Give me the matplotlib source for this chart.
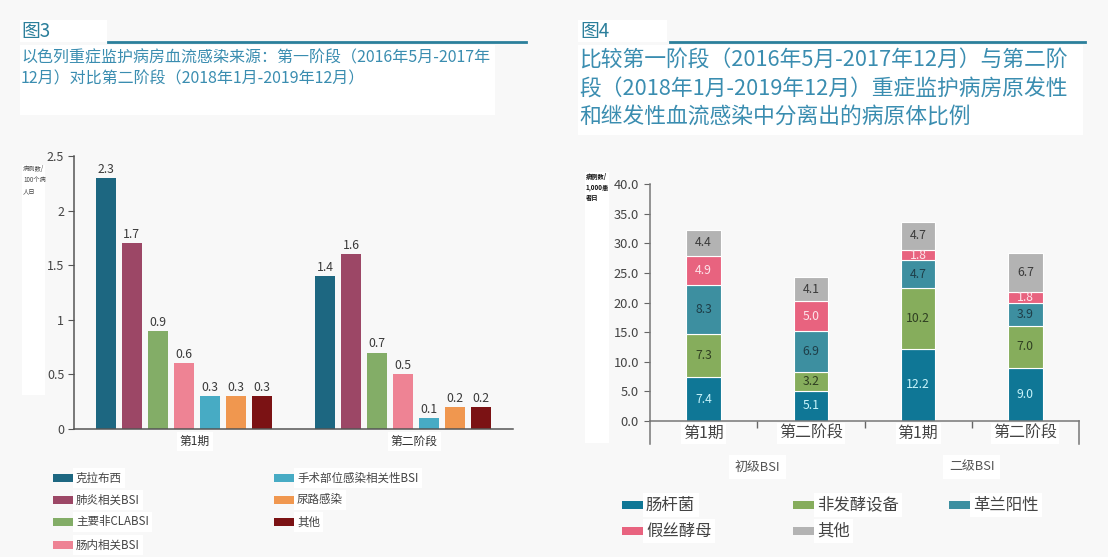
import matplotlib
matplotlib.use("Agg")
import matplotlib.pyplot as plt
from matplotlib.patches import Rectangle
from matplotlib.lines import Line2D
import numpy as np

plt.rcParams['font.family'] = ['Noto Sans CJK SC', 'DejaVu Sans']

# ---------------- data: Figure 3 ----------------
groups3 = ["第1期", "第二阶段"]
series3 = ["克拉布西", "肺炎相关BSI", "主要非CLABSI", "肠内相关BSI",
           "手术部位感染相关性BSI", "尿路感染", "其他"]
values3 = {
    "克拉布西": [2.3, 1.4],
    "肺炎相关BSI": [1.7, 1.6],
    "主要非CLABSI": [0.9, 0.7],
    "肠内相关BSI": [0.6, 0.5],
    "手术部位感染相关性BSI": [0.3, 0.1],
    "尿路感染": [0.3, 0.2],
    "其他": [0.3, 0.2],
}
colors3 = ["#1d6781", "#9c4766", "#83ad67", "#ee8394", "#47abc4", "#f0974f", "#7b1214"]
yticks3 = [0, 0.5, 1, 1.5, 2, 2.5]
yticklabels3 = ["0", "0.5", "1", "1.5", "2", "2.5"]

# ---------------- data: Figure 4 ----------------
bars4 = ["第1期", "第二阶段", "第1期", "第二阶段"]
supergroups4 = ["初级BSI", "二级BSI"]
series4 = ["肠杆菌", "非发酵设备", "革兰阳性", "假丝酵母", "其他"]
values4 = {
    "肠杆菌": [7.4, 5.1, 12.2, 9.0],
    "非发酵设备": [7.3, 3.2, 10.2, 7.0],
    "革兰阳性": [8.3, 6.9, 4.7, 3.9],
    "假丝酵母": [4.9, 5.0, 1.8, 1.8],
    "其他": [4.4, 4.1, 4.7, 6.7],
}
colors4 = ["#0f7796", "#86ad5c", "#3d8fa0", "#e8637f", "#b3b3b3"]
labelcolors4 = ["#c8f4fb", "#2f3f22", "#1e3e48", "#fde3ea", "#3a3a3a"]
yticks4 = [0, 5, 10, 15, 20, 25, 30, 35, 40]

W, H = 1108, 557
BG = "#f8f8f8"
TEAL = "#2b7f9b"
SUB = "#3a8db0"

fig = plt.figure(figsize=(W / 100, H / 100), dpi=100, facecolor=BG)


def fx(x):
    return x / W


def fy(y):
    return 1 - y / H


def wbox(x0, y0, x1, y1, color="white"):
    fig.patches.append(Rectangle((fx(x0), fy(y1)), fx(x1) - fx(x0), fy(y0) - fy(y1),
                                 transform=fig.transFigure, facecolor=color,
                                 edgecolor="none", zorder=0))


# ---------------- titles ----------------
wbox(20, 20, 107, 42)
wbox(20, 45, 495, 115)
fig.text(fx(21), fy(31), "图3", fontsize=13.5, color=TEAL, va="center", ha="left")
fig.add_artist(Line2D([fx(108), fx(526)], [fy(42), fy(42)], color=TEAL, lw=2,
                      transform=fig.transFigure))
fig.text(fx(21), fy(58), "以色列重症监护病房血流感染来源：第一阶段（2016年5月-2017年",
         fontsize=11.5, color=SUB, va="center", ha="left")
fig.text(fx(21), fy(79), "12月）对比第二阶段（2018年1月-2019年12月）",
         fontsize=11.5, color=SUB, va="center", ha="left")

wbox(578, 20, 667, 42)
wbox(578, 45, 1083, 135)
fig.text(fx(580), fy(31), "图4", fontsize=13.5, color=TEAL, va="center", ha="left")
fig.add_artist(Line2D([fx(670), fx(1085)], [fy(42), fy(42)], color=TEAL, lw=2,
                      transform=fig.transFigure))
sub4 = ["比较第一阶段（2016年5月-2017年12月）与第二阶",
        "段（2018年1月-2019年12月）重症监护病房原发性",
        "和继发性血流感染中分离出的病原体比例"]
for i, line in enumerate(sub4):
    fig.text(fx(579), fy(61 + i * 28.5), line, fontsize=15.7, color=SUB,
             va="center", ha="left")

# ---------------- Figure 3 axes ----------------
ax3 = fig.add_axes([fx(74), fy(429), fx(513) - fx(74), fy(156) - fy(429)])
ax3.set_facecolor("none")
x3 = np.arange(len(groups3))
bw = 0.091
step = 0.1185
n = len(series3)
for i, (name, col) in enumerate(zip(series3, colors3)):
    xs = x3 + (i - (n - 1) / 2) * step
    b = ax3.bar(xs, values3[name], width=bw, color=col, zorder=2)
    ax3.bar_label(b, labels=[f"{v:.1f}" for v in values3[name]], padding=1.5,
                  fontsize=8.8, color="#3a3a3a")
ax3.set_xlim(-0.5, 1.5)
ax3.set_ylim(0, 2.5)
ax3.set_yticks(yticks3)
ax3.set_yticklabels(yticklabels3, fontsize=9, color="#444")
ax3.set_xticks([])
for s in ["top", "right"]:
    ax3.spines[s].set_visible(False)
for s in ["left", "bottom"]:
    ax3.spines[s].set_color("#555")
    ax3.spines[s].set_linewidth(1.1)
ax3.tick_params(axis="y", length=4, color="#555", pad=3)
for gx, g in zip(x3, groups3):
    ax3.text(gx + 0.05, -0.045, g, transform=ax3.get_xaxis_transform(),
             ha="center", va="center", fontsize=8.5, color="#333",
             bbox=dict(facecolor="white", edgecolor="none", pad=2))

wbox(22, 165, 45, 395)
fig.text(fx(23), fy(165), "病例数/\n100个病\n人日", fontsize=4.5, color="#444",
         va="top", ha="left", linespacing=1.5)

# legend fig 3
leg3_pos = [(53, 478), (53, 500), (53, 522), (53, 545), (274, 478), (274, 500), (274, 522)]
for (px, py), name, col in zip(leg3_pos, series3, colors3):
    fig.patches.append(Rectangle((fx(px), fy(py + 4)), fx(23), 8 / H,
                                 transform=fig.transFigure, facecolor=col,
                                 edgecolor="none", zorder=2))
    fig.text(fx(px + 23), fy(py), name, fontsize=8.3, color="#444",
             va="center", ha="left",
             bbox=dict(facecolor="white", edgecolor="none", pad=2.5))

# ---------------- Figure 4 axes ----------------
ax4 = fig.add_axes([fx(650), fy(421), fx(1079) - fx(650), fy(184) - fy(421)])
ax4.set_facecolor("none")
x4 = np.arange(len(bars4))
bottom = np.zeros(len(bars4))
for name, col, lc in zip(series4, colors4, labelcolors4):
    vals = np.array(values4[name])
    ax4.bar(x4, vals, width=0.32, bottom=bottom, color=col, edgecolor="white",
            linewidth=0.8, zorder=2)
    for xi, v, b0 in zip(x4, vals, bottom):
        ax4.text(xi, b0 + v / 2, f"{v:.1f}", ha="center", va="center",
                 fontsize=8.8, color=lc, zorder=3)
    bottom += vals
ax4.set_xlim(-0.5, 3.5)
ax4.set_ylim(0, 40)
ax4.set_yticks(yticks4)
ax4.set_yticklabels([f"{v:.1f}" for v in yticks4], fontsize=9.3, color="#444")
ax4.set_xticks([])
ax4.set_xticks([0.5, 1.5, 2.5], minor=True)
ax4.tick_params(axis="x", which="minor", length=5, color="#666", width=1)
ax4.tick_params(axis="y", length=4, color="#666", pad=4)
for s in ["top", "right"]:
    ax4.spines[s].set_visible(False)
for s in ["left", "bottom"]:
    ax4.spines[s].set_color("#777")
    ax4.spines[s].set_linewidth(1.1)
tr = ax4.get_xaxis_transform()
for xe in [-0.5, 3.5]:
    ax4.plot([xe, xe], [0, -0.095], transform=tr, color="#777", lw=1.1, clip_on=False)
for xi, g in zip(x4, bars4):
    ax4.text(xi, -0.052, g, transform=tr, ha="center", va="center",
             fontsize=11.5, color="#444",
             bbox=dict(facecolor="white", edgecolor="none", pad=1.5))
for gi, g in enumerate(supergroups4):
    ax4.text(gi * 2 + 0.5, -0.195, g, transform=tr, ha="center", va="center",
             fontsize=9.3, color="#555",
             bbox=dict(facecolor="white", edgecolor="none", pad=4))

wbox(585, 172, 609, 443)
fig.text(fx(586), fy(173), "病例数/\n1,000患\n者日", fontsize=4.5, color="#111",
         fontweight="bold", va="top", ha="left", linespacing=1.5)

leg4_pos = [(622, 505), (793, 505), (949, 505), (622, 531), (793, 531)]
for (px, py), name, col in zip(leg4_pos, series4, colors4):
    fig.patches.append(Rectangle((fx(px), fy(py + 4)), fx(23), 8 / H,
                                 transform=fig.transFigure, facecolor=col,
                                 edgecolor="none", zorder=2))
    fig.text(fx(px + 24), fy(py), name, fontsize=11.8, color="#444",
             va="center", ha="left",
             bbox=dict(facecolor="white", edgecolor="none", pad=2.5))

fig.savefig("out.png", dpi=100, facecolor=BG)
